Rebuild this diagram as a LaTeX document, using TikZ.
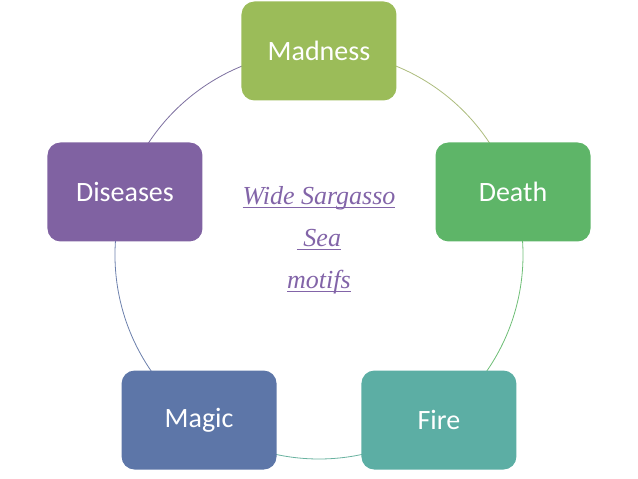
\documentclass[tikz,border=0pt]{standalone}
\usepackage{fontspec}
\newfontfamily\boxfont{Carlito}
\newfontfamily\titlefont{Liberation Serif}
\usetikzlibrary{backgrounds}

% underline with a thicker rule
\newcommand{\ulmotif}[1]{\setbox0\hbox{#1}\rlap{\rule[-4pt]{\wd0}{1.3pt}}\box0}

\definecolor{madnessfill}{RGB}{155,188,89}
\definecolor{deathfill}{RGB}{94,181,104}
\definecolor{firefill}{RGB}{92,174,164}
\definecolor{magicfill}{RGB}{93,118,168}
\definecolor{diseasesfill}{RGB}{128,98,162}
\definecolor{madnessline}{RGB}{172,188,125}
\definecolor{deathline}{RGB}{110,190,118}
\definecolor{fireline}{RGB}{105,178,160}
\definecolor{magicline}{RGB}{108,128,172}
\definecolor{diseasesline}{RGB}{125,112,160}
\definecolor{titlepurple}{RGB}{130,100,168}

\tikzset{
  motif/.style={draw=none, rounded corners=13pt, minimum width=155pt,
    minimum height=99pt, text=white, font=\boxfont\fontsize{28}{32}\selectfont},
  cycleline/.style={line width=0.8pt}
}

\begin{document}
\begin{tikzpicture}[x=1pt, y=1pt]
  \useasboundingbox (-319,-224) rectangle (319,255);

  % the five motifs round the circle
  \node[motif, fill=madnessfill] (madness) at (90:204pt) {Madness};
  \node[motif, fill=deathfill] (death) at (18:204pt) {Death};
  \node[motif, fill=firefill] (fire) at (-54:204pt) {Fire};
  \node[motif, fill=magicfill] (magic) at (-126:204pt) {Magic};
  \node[motif, fill=diseasesfill] (diseases) at (162:204pt) {Diseases};

  \node[text=titlepurple, align=center, font=\titlefont\itshape\fontsize{26}{42}\selectfont] (title) at (0,15)
    {\ulmotif{Wide Sargasso}\\ \ulmotif{\ Sea}\\ \ulmotif{motifs}};

  % circle pieces behind the boxes
  \begin{scope}[on background layer]
    \draw[cycleline, draw=madnessline] (madness.center) arc[start angle=90, end angle=18, radius=204pt];
    \draw[cycleline, draw=deathline] (death.center) arc[start angle=18, end angle=-54, radius=204pt];
    \draw[cycleline, draw=fireline] (fire.center) arc[start angle=-54, end angle=-126, radius=204pt];
    \draw[cycleline, draw=magicline] (magic.center) arc[start angle=-126, end angle=-198, radius=204pt];
    \draw[cycleline, draw=diseasesline] (diseases.center) arc[start angle=162, end angle=90, radius=204pt];
  \end{scope}
\end{tikzpicture}
\end{document}
